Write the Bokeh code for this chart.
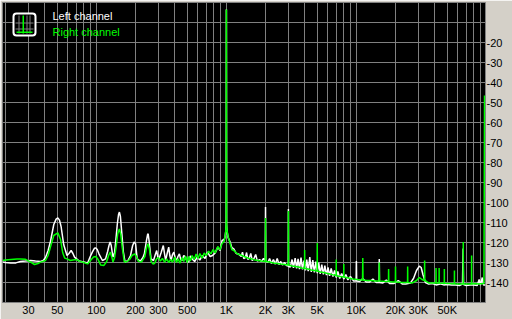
from bokeh.plotting import figure
from bokeh.models import FixedTicker, CustomJSTickFormatter, Label, BoxAnnotation
from bokeh.embed import file_html
from bokeh.resources import INLINE

# ---------------- data ----------------
x_tick_values = [30, 50, 100, 200, 300, 500, 1000, 2000, 3000, 5000,
                 10000, 20000, 30000, 50000]
y_tick_values = [-20, -30, -40, -50, -60, -70, -80, -90, -100, -110,
                 -120, -130, -140]

left_hz = [
    18.95, 20, 21.9, 24, 26, 28.5, 31.2, 34, 37.2, 39,
    40.6, 42.5, 44.3, 47, 49, 50.5, 52, 53.5, 56, 59.4,
    61.5, 63.9, 66, 67.9, 73.7, 79.9, 85.6, 89, 93, 96.5,
    99, 101.5, 104.8, 111.3, 117.6, 122, 125, 127.5, 130, 134.1,
    138, 141, 145, 148, 150.3, 153, 157, 161, 166, 175,
    183, 190, 195, 200, 206, 217.7, 228, 234, 242, 248,
    250, 254, 263, 275, 284, 291, 297, 303, 315, 327,
    334, 341, 350, 360, 367, 375, 385, 394, 403, 413,
    424, 435, 445, 456, 470, 484, 498, 513, 528, 545,
    570, 597, 625, 652, 685, 716, 750, 782, 820, 860,
    895, 926, 960, 977, 990, 996, 1000, 1004, 1010, 1030,
    1070, 1100, 1140, 1190, 1246, 1300, 1330, 1360, 1400, 1430,
    1460, 1500, 1540, 1580, 1630, 1680, 1730, 1800, 1860, 1930,
    1990, 2000, 2010, 2080, 2150, 2220, 2300, 2380, 2460, 2540,
    2620, 2700, 2800, 2900, 2990, 3000, 3010, 3100, 3200, 3280,
    3380, 3470, 3560, 3650, 3750, 3850, 3950, 4050, 4150, 4260,
    4380, 4500, 4620, 4750, 4880, 5000, 5130, 5270, 5420, 5570,
    5720, 5880, 6050, 6220, 6400, 6600, 6800, 7000, 7200, 7450,
    7700, 8000, 8300, 8600, 9000, 9500, 9950, 10000, 10050, 10600,
    11200, 11900, 12600, 13400, 14200, 14950, 15000, 15050, 16000, 17000,
    18000, 19500, 21000, 22500, 24000, 26000, 27500, 29000, 30500, 31500,
    32500, 34000, 36000, 38500, 41000, 44000, 47000, 50000, 54000, 58000,
    62000, 65500, 66200, 66800, 70000, 75000, 80000, 85000, 88000, 90000,
    93000, 95000, 98460,
]
left_db = [
    -129.8, -130.0, -130.3, -130.2, -129.5, -129.3, -129.0, -129.3, -129.5, -129.0,
    -127.5, -124.0, -119.5, -111.0, -108.3, -107.7, -108.8, -112.0, -121.0, -126.5,
    -125.5, -124.0, -125.5, -127.3, -129.3, -129.8, -130.3, -127.5, -124.8, -122.9,
    -122.7, -123.5, -125.8, -129.0, -128.2, -124.5, -121.5, -119.8, -121.5, -127.3,
    -125.0, -119.0, -110.5, -106.0, -104.8, -107.0, -115.7, -124.5, -129.8, -129.0,
    -126.5, -121.5, -119.8, -120.5, -128.2, -129.3, -127.5, -125.5, -119.5, -115.8,
    -115.7, -119.0, -128.2, -129.0, -126.0, -124.0, -127.5, -128.2, -125.0, -121.5,
    -125.5, -129.0, -125.5, -122.3, -126.5, -129.0, -126.0, -124.8, -127.5, -129.3,
    -127.0, -125.7, -128.5, -129.0, -126.5, -127.3, -129.5, -129.8, -126.7, -128.2,
    -129.5, -127.3, -128.8, -126.5, -128.0, -124.8, -127.0, -126.5, -125.2, -122.3,
    -124.0, -119.0, -118.5, -117.3, -114.0, -111.0, -3.5, -111.0, -114.0, -117.5,
    -119.8, -122.5, -123.2, -125.5, -125.8, -127.0, -124.8, -128.0, -127.5, -125.0,
    -128.5, -127.8, -125.5, -129.0, -128.0, -126.0, -129.3, -128.5, -129.5, -128.0,
    -129.0, -102.3, -129.3, -130.0, -128.0, -130.5, -128.5, -130.8, -128.0, -131.0,
    -129.5, -131.2, -130.0, -131.5, -131.8, -103.2, -132.0, -132.3, -128.5, -132.7,
    -127.8, -133.0, -128.2, -133.3, -127.5, -133.5, -129.0, -134.0, -128.5, -134.3,
    -127.3, -134.7, -128.8, -135.0, -129.5, -135.3, -130.0, -135.7, -131.0, -136.0,
    -131.5, -136.3, -132.5, -136.7, -133.0, -137.0, -134.0, -137.5, -134.5, -138.0,
    -135.5, -138.3, -136.0, -138.7, -137.0, -139.2, -139.3, -129.3, -139.3, -139.5,
    -138.0, -139.8, -139.8, -138.3, -140.0, -140.0, -128.2, -140.0, -140.2, -138.8,
    -140.5, -140.5, -139.0, -140.7, -140.7, -140.3, -138.0, -134.0, -131.8, -132.5,
    -136.0, -140.0, -140.8, -140.5, -141.2, -140.7, -141.2, -141.0, -141.3, -141.2,
    -141.5, -140.8, -123.0, -141.0, -141.5, -141.2, -141.3, -141.5, -138.5, -141.3,
    -137.5, -141.2, -141.2,
]

right_hz = [
    18.95, 20, 22, 24.5, 26, 28.5, 31.2, 33.4, 35.5, 37.2,
    40.6, 42.5, 44.3, 47, 50.5, 53, 55, 57, 59.4, 63,
    66, 70, 74, 80, 85.6, 90, 95, 99, 103, 108,
    114, 120, 124, 128, 132, 134.1, 138, 142, 146, 150.3,
    154, 158, 164, 172, 180, 188, 197, 203, 210, 222,
    236, 244, 250, 256, 263, 272, 280, 290, 300, 310,
    322, 335, 347, 360, 372, 385, 400, 413, 425, 440,
    456, 470, 485, 500, 513, 528, 545, 565, 585, 605,
    625, 650, 675, 700, 730, 760, 790, 820, 860, 890,
    926, 960, 977, 990, 996, 1000, 1004, 1010, 1030, 1070,
    1100, 1140, 1190, 1246, 1300, 1370, 1430, 1500, 1580, 1660,
    1760, 1860, 1990, 2000, 2010, 2150, 2300, 2460, 2620, 2800,
    2990, 3000, 3010, 3200, 3400, 3600, 3800, 3990, 4000, 4010,
    4250, 4500, 4750, 4990, 5000, 5010, 5300, 5600, 6000, 6300,
    6700, 6990, 7000, 7010, 7500, 7990, 8000, 8010, 8700, 9400,
    10200, 11000, 11150, 11200, 11250, 12000, 13000, 14000, 14950, 15000,
    15050, 16200, 17650, 17700, 17750, 19000, 19950, 20000, 20050, 22500,
    24750, 24800, 24850, 27000, 29000, 30500, 32000, 33400, 33500, 33600,
    36000, 39000, 40950, 41000, 41050, 43250, 43300, 43350, 45500, 47450,
    47500, 47550, 52000, 56750, 56800, 56850, 61000, 66300, 66400, 66500,
    71000, 76900, 77000, 77100, 82000, 87000, 90500, 95800, 96800,
]
right_db = [
    -129.0, -128.8, -128.5, -128.2, -128.2, -128.4, -129.8, -131.0, -130.5, -129.8,
    -129.0, -126.5, -122.3, -116.5, -115.2, -118.5, -125.0, -127.8, -128.2, -129.0,
    -128.7, -128.5, -129.3, -130.0, -130.7, -129.0, -127.3, -127.0, -128.5, -131.3,
    -131.5, -129.5, -126.5, -124.8, -127.8, -129.8, -127.5, -122.0, -115.5, -113.2,
    -116.0, -122.3, -129.8, -129.5, -128.5, -126.5, -125.7, -127.0, -129.3, -129.8,
    -127.0, -122.0, -120.7, -123.5, -129.3, -130.7, -130.5, -128.2, -127.5, -129.3,
    -128.0, -129.8, -128.2, -130.0, -128.5, -129.8, -127.3, -130.0, -128.2, -130.3,
    -127.5, -129.5, -126.8, -130.0, -127.0, -129.3, -126.5, -128.5, -125.8, -128.0,
    -125.5, -127.8, -125.3, -126.5, -124.3, -125.7, -123.5, -125.2, -122.0, -123.7,
    -120.5, -119.5, -117.0, -113.8, -110.5, -3.5, -110.5, -113.8, -117.0, -120.7,
    -123.5, -124.0, -125.2, -126.0, -126.3, -127.0, -127.5, -128.0, -128.3, -128.8,
    -129.0, -129.3, -129.5, -107.7, -129.5, -129.8, -130.2, -130.5, -130.8, -131.0,
    -131.3, -104.3, -131.3, -131.7, -132.0, -132.3, -132.7, -133.0, -123.7, -133.0,
    -133.3, -133.7, -134.0, -134.3, -120.3, -134.3, -134.7, -135.0, -135.5, -135.8,
    -136.3, -136.5, -128.5, -136.6, -137.0, -137.3, -130.7, -137.3, -137.8, -138.2,
    -138.5, -138.7, -138.7, -127.7, -138.7, -139.0, -139.0, -139.2, -139.3, -130.0,
    -139.3, -139.4, -139.5, -133.2, -139.5, -139.8, -139.8, -132.0, -139.8, -140.0,
    -140.0, -132.0, -140.0, -140.2, -139.0, -137.5, -138.5, -139.0, -129.0, -139.0,
    -140.2, -140.3, -140.3, -132.7, -140.3, -140.3, -132.7, -140.3, -140.4, -140.4,
    -133.2, -140.4, -140.5, -140.6, -134.0, -140.6, -140.7, -140.7, -119.8, -140.7,
    -140.7, -140.7, -126.5, -140.7, -140.5, -140.8, -140.6, -140.5, -46.5,
]

series_names = ["Left channel", "Right channel"]

# ---------------- layout / style ----------------
W, H = 512, 319
FL, FR, FT, FB = 2, 485, 2, 302      # frame edges in pixels
BG = "#d4d0c8"
GRID = "#808080"
FONT = "Liberation Sans"
FS = "11px"
WHITE = "#ffffff"
GREEN = "#00ff00"

x_grid_values = [m * 10 ** e for e in range(1, 5) for m in range(1, 10)
                 if 19 < m * 10 ** e < 98000]
y_grid_values = [-10 * k for k in range(1, 15)]

p = figure(width=W, height=H, x_axis_type="log",
           x_range=(18.95, 98460), y_range=(-150, 0),
           y_axis_location="right",
           output_backend="svg", toolbar_location=None,
           background_fill_color="black", border_fill_color=BG,
           min_border_left=FL, min_border_right=W - FR,
           min_border_top=FT, min_border_bottom=H - FB)
p.outline_line_color = GRID
p.outline_line_width = 1

p.xgrid.ticker = FixedTicker(ticks=x_grid_values)
p.ygrid.ticker = FixedTicker(ticks=y_grid_values)
for g in (p.xgrid, p.ygrid):
    g.grid_line_color = GRID
    g.grid_line_alpha = 1.0
    g.grid_line_width = 1

xa = p.xaxis[0]
xa.ticker = FixedTicker(ticks=x_tick_values)
xa.formatter = CustomJSTickFormatter(code="""
    const v = Math.round(tick);
    return v >= 1000 ? (v / 1000) + "K" : String(v);
""")
ya = p.yaxis[0]
ya.ticker = FixedTicker(ticks=y_tick_values)
ya.formatter = CustomJSTickFormatter(code="""
    const v = Math.round(tick);
    return (v < 0 ? "-" : "") + String(Math.abs(v));
""")
for ax in (xa, ya):
    ax.axis_line_color = None
    ax.major_tick_line_color = None
    ax.minor_tick_line_color = None
    ax.major_tick_out = 0
    ax.major_tick_in = 0
    ax.major_label_standoff = 1
    ax.major_label_text_font = FONT
    ax.major_label_text_font_size = FS
    ax.major_label_text_color = "black"

p.line(left_hz, left_db, line_color=WHITE, line_width=1.5, line_join="bevel")
p.line(right_hz, right_db, line_color=GREEN, line_width=1.5, line_join="bevel")


def sx(px):
    return px - FL


def sy(py):
    return FB - py


# unit labels
for txt, xp, yp in (("dB", 487, 8), ("Hz", 488, 311)):
    p.add_layout(Label(x=sx(xp), y=sy(yp), x_units="screen", y_units="screen",
                       text=txt, text_font=FONT, text_font_size=FS,
                       text_color="black", text_baseline="middle",
                       text_align="left"))

# legend texts
for txt, col, yp in ((series_names[0], WHITE, 15), (series_names[1], GREEN, 31)):
    p.add_layout(Label(x=sx(52), y=sy(yp), x_units="screen", y_units="screen",
                       text=txt, text_font=FONT, text_font_size=FS,
                       text_color=col, text_baseline="middle", text_align="left"))


def box(l, r, t, b, **kw):
    p.add_layout(BoxAnnotation(left=sx(l), right=sx(r), top=sy(t), bottom=sy(b),
                               left_units="screen", right_units="screen",
                               top_units="screen", bottom_units="screen",
                               level="overlay", **kw))


# legend icon
box(13, 35, 13, 35, fill_color="black", fill_alpha=1, line_color=WHITE,
    line_width=2, line_alpha=1, border_radius=3)
for gx in (18, 26, 29):
    box(gx, gx + 1, 15, 33, fill_color=GRID, fill_alpha=1, line_color=None)
for gy in (22, 28):
    box(15, 33, gy, gy + 1, fill_color=GRID, fill_alpha=1, line_color=None)
box(22, 23.5, 15, 33, fill_color=GREEN, fill_alpha=1, line_color=None)
box(16, 32, 31, 32.5, fill_color=GREEN, fill_alpha=1, line_color=None)

open("out.html", "w").write(file_html(p, INLINE))
